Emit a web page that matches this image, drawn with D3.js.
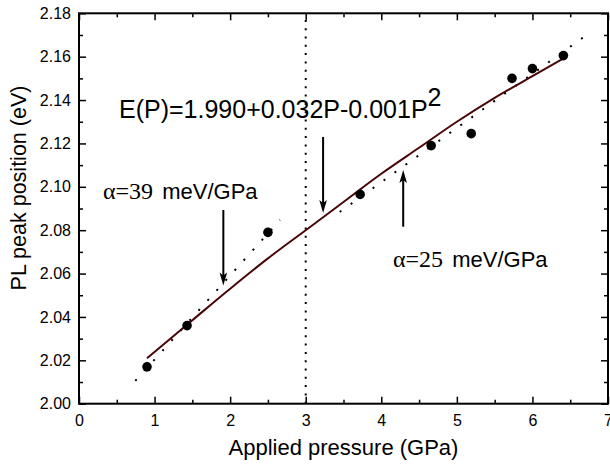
<!DOCTYPE html>
<meta charset="utf-8">
<title>PL peak position vs pressure</title>
<style>
html, body { margin: 0; padding: 0; background: #fff; }
svg { display: block; font-family: "Liberation Sans", Arial, sans-serif; }
.axis .tick text { font-size: 16px; fill: #000; }
.axis .tick line { stroke: #000; stroke-width: 1.5; }
.axis path.domain { display: none; }
.frame { fill: none; stroke: #000; stroke-width: 2; }
.label { fill: #000; }
</style>
<body>
<svg width="610" height="469"></svg>
<script src="https://d3js.org/d3.v7.min.js"></script>
<script>

// measured points
var pressure = [0.9, 1.43, 2.5, 3.72, 4.66, 5.19, 5.73, 6.0, 6.41];
var peak     = [2.017, 2.036, 2.079, 2.0965, 2.119, 2.1245, 2.150, 2.1545, 2.1605];

// quadratic fit curve
var fitP = [0.9, 1.5, 2.0, 2.5, 3.0, 3.5, 4.0, 4.5, 5.0, 5.5, 6.0, 6.4];
var fitE = [2.021, 2.0385, 2.053, 2.067, 2.080, 2.093, 2.106, 2.118, 2.130, 2.141, 2.151, 2.159];

// linear fits (dotted)
var lowFitP  = [0.745, 2.66],  lowFitE  = [2.0105, 2.0847];
var highFitP = [3.45, 6.68],   highFitE = [2.0884, 2.1691];

// arrows: pressure, start energy, tip energy
var arrowP    = [1.91, 3.23, 4.29];
var arrowFrom = [2.0893, 2.1230, 2.0816];
var arrowTo   = [2.0545, 2.0879, 2.1077];

var xTicks = [0, 1, 2, 3, 4, 5, 6, 7];
var xMinor = [0.5, 1.5, 2.5, 3.5, 4.5, 5.5, 6.5];
var yTicks = [2.00, 2.02, 2.04, 2.06, 2.08, 2.10, 2.12, 2.14, 2.16, 2.18];
var yMinor = [2.01, 2.03, 2.05, 2.07, 2.09, 2.11, 2.13, 2.15, 2.17];

var svg = d3.select("svg"),
    margin = {top: 13.3, right: 2, bottom: 65.3, left: 79},
    width = 610 - margin.left - margin.right,
    height = 469 - margin.top - margin.bottom;

var g = svg.append("g")
    .attr("transform", "translate(" + margin.left + "," + margin.top + ")");

var x = d3.scaleLinear().domain([0, 7]).range([0, width]);
var y = d3.scaleLinear().domain([2.00, 2.18]).range([height, 0]);

// axes, ticks pointing inward
g.append("g").attr("class", "axis")
    .attr("transform", "translate(0," + height + ")")
    .call(d3.axisBottom(x).tickValues(xTicks).tickFormat(d3.format("d"))
      .tickSizeInner(-7).tickSizeOuter(0).tickPadding(11));
g.append("g").attr("class", "axis")
    .attr("transform", "translate(0," + height + ")")
    .call(d3.axisBottom(x).tickValues(xMinor).tickFormat("").tickSizeInner(-4).tickSizeOuter(0));
g.append("g").attr("class", "axis")
    .call(d3.axisTop(x).tickValues(xTicks).tickFormat("").tickSizeInner(-7).tickSizeOuter(0));
g.append("g").attr("class", "axis")
    .call(d3.axisTop(x).tickValues(xMinor).tickFormat("").tickSizeInner(-4).tickSizeOuter(0));

g.append("g").attr("class", "axis")
    .call(d3.axisLeft(y).tickValues(yTicks).tickFormat(d3.format(".2f"))
      .tickSizeInner(-7).tickSizeOuter(0).tickPadding(8));
g.append("g").attr("class", "axis")
    .call(d3.axisLeft(y).tickValues(yMinor).tickFormat("").tickSizeInner(-4).tickSizeOuter(0));
g.append("g").attr("class", "axis")
    .attr("transform", "translate(" + width + ",0)")
    .call(d3.axisRight(y).tickValues(yTicks).tickFormat("").tickSizeInner(-7).tickSizeOuter(0));
g.append("g").attr("class", "axis")
    .attr("transform", "translate(" + width + ",0)")
    .call(d3.axisRight(y).tickValues(yMinor).tickFormat("").tickSizeInner(-4).tickSizeOuter(0));

g.append("rect").attr("class", "frame")
    .attr("width", width).attr("height", height);

// vertical dotted line at 3 GPa
g.append("line")
    .attr("x1", x(3)).attr("x2", x(3))
    .attr("y1", y(2.00)).attr("y2", y(2.18))
    .attr("stroke", "#000").attr("stroke-width", 2)
    .attr("stroke-dasharray", "2 6.3");

// dotted linear fits
var line = d3.line()
    .x(function(d) { return x(d[0]); })
    .y(function(d) { return y(d[1]); });

[[lowFitP, lowFitE], [highFitP, highFitE]].forEach(function(f) {
  g.append("path")
      .attr("d", line(d3.zip(f[0], f[1])))
      .attr("fill", "none")
      .attr("stroke", "#000")
      .attr("stroke-width", 2)
      .attr("stroke-dasharray", "2 11.5");
});

// quadratic fit
g.append("path")
    .attr("d", line.curve(d3.curveMonotoneX)(d3.zip(fitP, fitE)))
    .attr("fill", "none")
    .attr("stroke", "#4a0606")
    .attr("stroke-width", 2);

// data points
g.selectAll("circle.pt")
    .data(d3.zip(pressure, peak))
  .enter().append("circle")
    .attr("class", "pt")
    .attr("cx", function(d) { return x(d[0]); })
    .attr("cy", function(d) { return y(d[1]); })
    .attr("r", 4.8)
    .attr("fill", "#000");

// arrows
arrowP.forEach(function(p, i) {
  var x0 = x(p), y0 = y(arrowFrom[i]), y1 = y(arrowTo[i]);
  var dir = y1 > y0 ? 1 : -1;
  g.append("line")
      .attr("x1", x0).attr("x2", x0)
      .attr("y1", y0).attr("y2", y1 - dir * 8)
      .attr("stroke", "#000").attr("stroke-width", 2);
  g.append("path")
      .attr("d", "M" + x0 + "," + y1 +
                 "L" + (x0 - 3.8) + "," + (y1 - dir * 13) +
                 "L" + x0 + "," + (y1 - dir * 10) +
                 "L" + (x0 + 3.8) + "," + (y1 - dir * 13) + "Z")
      .attr("fill", "#000");
});

// annotations
var eq = svg.append("text").attr("class", "label")
    .attr("x", 119).attr("y", 118)
    .style("font-size", "25px");
eq.append("tspan").text("E(P)=1.990+0.032P-0.001P");
eq.append("tspan").attr("dy", -12).text("2");

function alphaLabel(xp, yp, val) {
  var t = svg.append("text").attr("class", "label")
      .attr("x", xp).attr("y", yp)
      .style("font-size", "22px");
  t.append("tspan")
      .style("font-family", "'Liberation Serif', 'DejaVu Serif', serif")
      .style("font-size", "24px")
      .text("\u03b1=" + val);
  t.append("tspan").attr("dx", 3).text(" meV/GPa");
}
alphaLabel(103, 199, "39");
alphaLabel(393, 267, "25");

// axis titles
svg.append("text").attr("class", "label")
    .attr("x", margin.left + x(3.5)).attr("y", 455)
    .attr("text-anchor", "middle")
    .style("font-size", "22px")
    .text("Applied pressure (GPa)");

svg.append("text").attr("class", "label")
    .attr("transform", "translate(26,188) rotate(-90)")
    .attr("text-anchor", "middle")
    .style("font-size", "21.5px")
    .text("PL peak position (eV)");

</script>
</body>
